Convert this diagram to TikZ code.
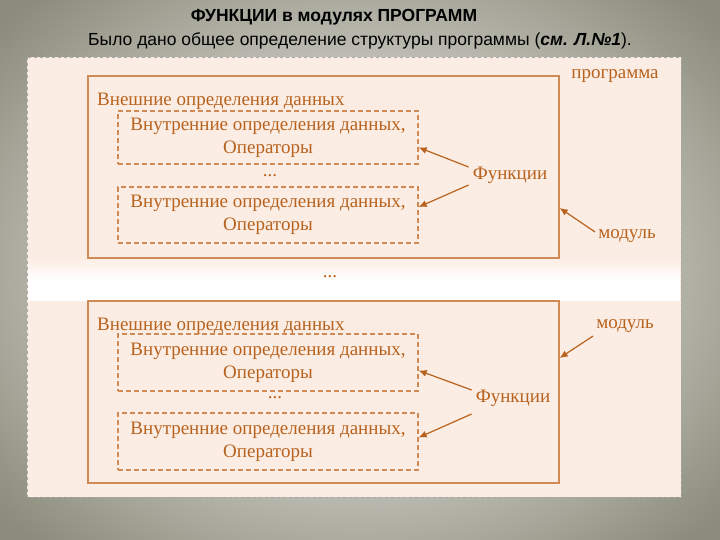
\documentclass[tikz,border=0pt]{standalone}
\usepackage{fontspec}
\usetikzlibrary{arrows.meta}
\setmainfont{Liberation Serif}
\newfontfamily\hdr{Liberation Sans}
\definecolor{brn}{HTML}{B8621E}
\definecolor{brl}{HTML}{D08A55}
\definecolor{peach}{HTML}{FBEDE4}
\definecolor{edge}{HTML}{8C8C7C}
\begin{document}
\begin{tikzpicture}[x=1pt,y=-1pt,
  modbox/.style={draw=brl,line width=1.3pt},
  funbox/.style={draw=brl,line width=1.3pt,dash pattern=on 5pt off 3pt},
  lbl/.style={text=brn,font=\fontsize{19}{21}\selectfont,inner sep=0pt},
  arr/.style={draw=brn,line width=1.2pt,-{Latex[length=8pt,width=7pt]}}]
\useasboundingbox (0,0) rectangle (720,540);
\shade[inner color=white,outer color=edge] (-120,-100) rectangle (840,640);
\path[fill=peach,draw=black!35,dashed,line width=0.8pt] (27,57) rectangle (681,497);
\shade[top color=peach,bottom color=white,middle color=white] (28,258) rectangle (680,300);
% title
\node[font=\hdr\bfseries\fontsize{17.5}{20}\selectfont,inner sep=0pt] (t1) at (334,17) {ФУНКЦИИ в модулях ПРОГРАММ};
\node[font=\hdr\fontsize{17.5}{20}\selectfont,inner sep=0pt] (t2) at (360,41) {Было дано общее определение структуры программы (\textbf{\textit{см. Л.№1}}).};
% modules
\node[modbox,minimum width=471pt,minimum height=182pt] (m1) at (323.5,167) {};
\node[modbox,minimum width=471pt,minimum height=182pt] (m2) at (323.5,392) {};
\node[lbl,anchor=west] (e1) at (97,101) {Внешние определения данных};
\node[lbl,anchor=west] (e2) at (97,326) {Внешние определения данных};
\node[funbox,minimum width=300pt,minimum height=53pt,align=center,lbl,inner sep=0pt] (f1) at (268,137.5) {Внутренние определения данных,\\[2pt]Операторы};
\node[funbox,minimum width=300pt,minimum height=56pt,align=center,lbl,inner sep=0pt] (f2) at (268,215) {Внутренние определения данных,\\[2pt]Операторы};
\node[funbox,minimum width=300pt,minimum height=57pt,align=center,lbl,inner sep=0pt] (f3) at (268,362.5) {Внутренние определения данных,\\[2pt]Операторы};
\node[funbox,minimum width=300pt,minimum height=57pt,align=center,lbl,inner sep=0pt] (f4) at (268,441.5) {Внутренние определения данных,\\[2pt]Операторы};
\node[lbl] (d1) at (270,176) {...};
\node[lbl] (d2) at (330,277) {...};
\node[lbl] (d3) at (275,398) {...};
\node[lbl] (pr) at (615,76) {программа};
\node[lbl] (fn1) at (510,175) {Функции};
\node[lbl] (fn2) at (513,398) {Функции};
\node[lbl] (md1) at (627,236) {модуль};
\node[lbl] (md2) at (625,326) {модуль};
\draw[arr] ([shift={(-4,-8)}]fn1.west) -- ([yshift=-10]f1.east);
\draw[arr] ([shift={(-4,10)}]fn1.west) -- ([yshift=8]f2.east);
\draw[arr] ([shift={(-4,-8)}]fn2.west) -- ([yshift=-8]f3.east);
\draw[arr] ([shift={(-4,16)}]fn2.west) -- ([yshift=4]f4.east);
\draw[arr] ([shift={(-3,-4)}]md1.west) -- ([yshift=-41]m1.east);
\draw[arr] ([shift={(-3,10)}]md2.west) -- ([yshift=34]m2.east);
\end{tikzpicture}
\end{document}
